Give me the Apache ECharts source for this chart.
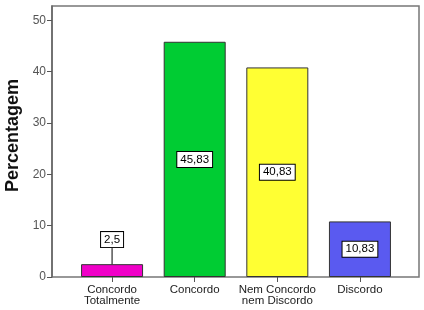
<!DOCTYPE html>
<html><head><meta charset="utf-8">
<script src="https://cdn.jsdelivr.net/npm/echarts@6/dist/echarts.min.js"></script>
<style>html,body{margin:0;padding:0;background:#fff}#c{width:424px;height:310px}</style>
</head><body><div id="c"></div>
<script>
const categories = ['Concordo\nTotalmente', 'Concordo', 'Nem Concordo\nnem Discordo', 'Discordo'];
const values = [2.5, 45.83, 40.83, 10.83];
const valueLabels = ['2,5', '45,83', '40,83', '10,83'];
const barColors = ['#f000c8', '#00cc33', '#ffff33', '#5a5af0'];
const yTicks = [0, 10, 20, 30, 40, 50];
const yAxisTitle = 'Percentagem';

const chart = echarts.init(document.getElementById('c'));
chart.setOption({
  animation: false,
  grid: [
    {left: 70.75, right: 22.75, top: 6, bottom: 33, containLabel: false, outerBoundsMode: 'none'},
    {left: 52, right: 5, top: 6, bottom: 33, show: true, borderColor: '#777', borderWidth: 1.5, backgroundColor: 'transparent', z: 0, outerBoundsMode: 'none'}
  ],
  xAxis: [
    {type: 'category', gridIndex: 0, data: categories, boundaryGap: true,
     axisLine: {show: false},
     axisTick: {show: true, alignWithLabel: true, length: 5, lineStyle: {color: '#555'}},
     axisLabel: {interval: 0, color: '#222', fontSize: 11.5, fontFamily: 'Liberation Sans, Arial, sans-serif', lineHeight: 11, margin: 7}},
    {type: 'value', gridIndex: 1, show: false, min: 0, max: 1}
  ],
  yAxis: [
    {type: 'value', gridIndex: 0, min: 0, max: 52.8, interval: 10, offset: 18.75,
     name: yAxisTitle, nameLocation: 'middle', nameGap: 27,
     nameTextStyle: {fontSize: 18, fontWeight: 'bold', color: '#111', fontFamily: 'Liberation Sans, Arial, sans-serif', padding: [0, 0, 0, 12]},
     axisLine: {show: true, lineStyle: {color: '#666', width: 1.5}},
     axisTick: {show: true, length: 5, customValues: yTicks, lineStyle: {color: '#555'}},
     axisLabel: {customValues: yTicks, color: '#555', fontSize: 12, margin: 6, fontFamily: 'Liberation Sans, Arial, sans-serif'},
     splitLine: {show: false}},
    {type: 'value', gridIndex: 1, show: false, min: 0, max: 1}
  ],
  series: [{
    type: 'bar', xAxisIndex: 0, yAxisIndex: 0,
    barWidth: 62,
    data: values.map((v, i) => ({value: v, itemStyle: {color: barColors[i]}})),
    itemStyle: {borderColor: '#333', borderWidth: 1},
    label: {
      show: true, position: 'inside',
      formatter: p => valueLabels[p.dataIndex],
      color: '#000', fontSize: 11.5, fontFamily: 'Liberation Sans, Arial, sans-serif',
      backgroundColor: '#fff', borderColor: '#000', borderWidth: 1, padding: [2, 3, 1, 3]
    },
    labelLine: {show: true, lineStyle: {color: '#000', width: 1}},
    labelLayout: function (params) {
      if (params.dataIndex === 0) {
        return {dy: -31};
      }
    }
  }]
});
</script></body></html>
